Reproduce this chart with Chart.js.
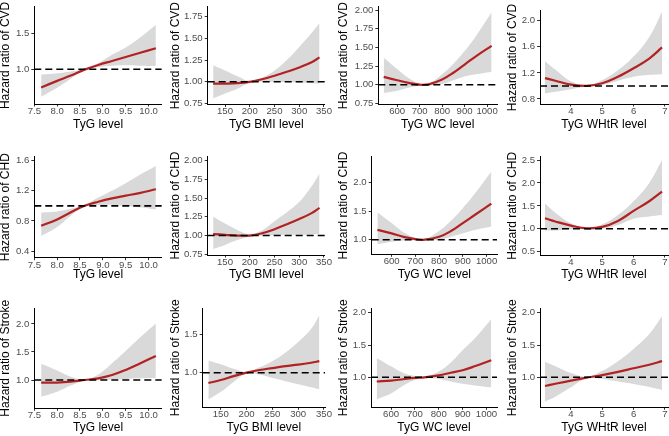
<!DOCTYPE html>
<html>
<head>
<meta charset="utf-8">
<script src="https://cdn.jsdelivr.net/npm/chart.js@4.4.0/dist/chart.umd.min.js"></script>
<style>
  html, body { margin: 0; padding: 0; background: #fff; }
  #wrap { position: relative; width: 669px; height: 436px; overflow: hidden; }
  #wrap canvas { position: absolute; }
</style>
</head>
<body>
<div id="wrap"></div>
<script>
// ---- data ----
const outcomes = ["CVD", "CHD", "Stroke"];
const exposures = ["TyG level", "TyG BMI level", "TyG WC level", "TyG WHtR level"];
const refHR = 1;

const tygX = [7.65, 8.0, 8.3, 8.6, 8.9, 9.2, 9.5, 9.8, 10.16];
const bmiX = [126, 150, 175, 200, 225, 250, 275, 300, 325, 341];
const wcX = [540, 600, 650, 700, 740, 800, 850, 900, 950, 1020];
const whtrX = [3.17, 3.5, 4.0, 4.5, 5.0, 5.5, 6.0, 6.5, 6.91];

const tygTicks = ["7.5", "8.0", "8.5", "9.0", "9.5", "10.0"];
const bmiTicks = ["150", "200", "250", "300", "350"];
const wcTicks = ["600", "700", "800", "900", "1000"];
const whtrTicks = ["4", "5", "6", "7"];

// CVD
const cvdTygEst = [0.75, 0.84, 0.915, 0.995, 1.06, 1.115, 1.17, 1.225, 1.29];
const cvdTygLo = [0.62, 0.745, 0.87, 0.985, 1.03, 1.05, 1.055, 1.05, 1.045];
const cvdTygHi = [0.925, 0.945, 0.97, 1.005, 1.085, 1.2, 1.3, 1.43, 1.61];
const cvdBmiEst = [0.98, 0.98, 0.985, 1.0, 1.03, 1.07, 1.115, 1.165, 1.225, 1.28];
const cvdBmiLo = [0.81, 0.865, 0.92, 0.99, 1.0, 1.0, 0.995, 0.99, 0.985, 0.98];
const cvdBmiHi = [1.19, 1.13, 1.065, 1.01, 1.05, 1.13, 1.25, 1.4, 1.56, 1.67];
const cvdWcEst = [1.105, 1.06, 1.025, 1.0, 1.005, 1.07, 1.16, 1.27, 1.38, 1.52];
const cvdWcLo = [0.89, 0.92, 0.96, 0.985, 0.99, 1.01, 1.06, 1.11, 1.14, 1.175];
const cvdWcHi = [1.36, 1.21, 1.09, 1.015, 1.015, 1.14, 1.28, 1.45, 1.65, 1.97];
const cvdWhtrEst = [1.12, 1.08, 1.02, 1.0, 1.04, 1.14, 1.27, 1.42, 1.59];
const cvdWhtrLo = [0.885, 0.91, 0.95, 0.99, 1.015, 1.08, 1.14, 1.17, 1.18];
const cvdWhtrHi = [1.38, 1.25, 1.07, 1.01, 1.09, 1.24, 1.45, 1.75, 2.14];

// CHD
const chdTygEst = [0.735, 0.82, 0.915, 1.0, 1.055, 1.1, 1.135, 1.17, 1.22];
const chdTygLo = [0.6, 0.72, 0.87, 0.99, 1.01, 1.015, 1.0, 0.98, 0.95];
const chdTygHi = [0.91, 0.925, 0.96, 1.01, 1.11, 1.2, 1.3, 1.41, 1.53];
const chdBmiEst = [1.02, 1.01, 1.0, 1.0, 1.03, 1.085, 1.15, 1.22, 1.3, 1.37];
const chdBmiLo = [0.82, 0.875, 0.94, 0.985, 1.0, 1.005, 1.01, 1.01, 1.015, 1.02];
const chdBmiHi = [1.25, 1.16, 1.075, 1.02, 1.07, 1.19, 1.31, 1.45, 1.66, 1.83];
const chdWcEst = [1.17, 1.11, 1.05, 1.01, 1.0, 1.05, 1.15, 1.29, 1.43, 1.63];
const chdWcLo = [0.92, 0.965, 0.985, 0.99, 0.99, 1.0, 1.05, 1.11, 1.17, 1.23];
const chdWcHi = [1.48, 1.29, 1.13, 1.03, 1.01, 1.15, 1.33, 1.55, 1.8, 2.19];
const chdWhtrEst = [1.23, 1.16, 1.07, 1.01, 1.04, 1.17, 1.39, 1.6, 1.81];
const chdWhtrLo = [0.96, 0.96, 0.99, 0.99, 1.0, 1.08, 1.22, 1.27, 1.3];
const chdWhtrHi = [1.55, 1.35, 1.12, 1.02, 1.1, 1.3, 1.6, 2.0, 2.5];

// Stroke
const strokeTygEst = [0.955, 0.955, 0.97, 1.0, 1.03, 1.09, 1.18, 1.29, 1.43];
const strokeTygLo = [0.7, 0.79, 0.9, 0.99, 1.0, 1.01, 1.02, 1.03, 1.035];
const strokeTygHi = [1.29, 1.17, 1.06, 1.01, 1.1, 1.3, 1.52, 1.75, 2.01];
const strokeBmiEst = [0.865, 0.905, 0.955, 1.0, 1.035, 1.06, 1.085, 1.105, 1.13, 1.15];
const strokeBmiLo = [0.65, 0.75, 0.88, 0.99, 0.975, 0.93, 0.89, 0.85, 0.81, 0.785];
const strokeBmiHi = [1.16, 1.11, 1.05, 1.01, 1.07, 1.15, 1.26, 1.4, 1.57, 1.75];
const strokeWcEst = [0.935, 0.95, 0.97, 0.99, 1.0, 1.03, 1.07, 1.11, 1.17, 1.265];
const strokeWcLo = [0.66, 0.75, 0.87, 0.96, 0.99, 0.975, 0.935, 0.9, 0.875, 0.845];
const strokeWcHi = [1.3, 1.17, 1.07, 1.02, 1.01, 1.09, 1.23, 1.42, 1.6, 1.9];
const strokeWhtrEst = [0.865, 0.9, 0.95, 0.995, 1.035, 1.085, 1.14, 1.195, 1.25];
const strokeWhtrLo = [0.625, 0.7, 0.845, 0.985, 0.975, 0.935, 0.895, 0.85, 0.805];
const strokeWhtrHi = [1.24, 1.17, 1.065, 1.01, 1.1, 1.25, 1.44, 1.67, 1.95];

// y tick labels per panel (row-major)
const yTicks = [
  ["1.0", "1.5"], ["0.75", "1.00", "1.25", "1.50", "1.75"], ["0.75", "1.00", "1.25", "1.50", "1.75", "2.00"], ["0.8", "1.2", "1.6", "2.0"],
  ["0.4", "0.8", "1.2", "1.6"], ["0.75", "1.00", "1.25", "1.50", "1.75", "2.00"], ["1.0", "1.5", "2.0"], ["0.5", "1.0", "1.5", "2.0", "2.5"],
  ["1.0", "1.5", "2.0"], ["1.0", "1.5"], ["1.0", "1.5", "2.0"], ["1.0", "1.5", "2.0"],
];

// ---- layout (page pixels) ----
const cols = [
  { cellL: 0, cellR: 166, titleX: 6, plotR: 161.8, min: 7.5, max: 10.29, xs: tygX, ticks: tygTicks },
  { cellL: 166, cellR: 332, titleX: 175.5, plotR: 330.5, min: 115, max: 352, xs: bmiX, ticks: bmiTicks },
  { cellL: 332, cellR: 498, titleX: 343.5, plotR: 497, min: 516, max: 1044, xs: wcX, ticks: wcTicks },
  { cellL: 498, cellR: 669, titleX: 512.5, plotR: 668, min: 3.01, max: 7.1, xs: whtrX, ticks: whtrTicks },
];
const rows = [
  { cellT: 0, cellB: 144, titleY: 124.5 },
  { cellT: 144, cellB: 290, titleY: 274.5 },
  { cellT: 290, cellB: 436, titleY: 427.5 },
];
// plotL, plotT, plotB, yMin, yMax
const boxes = [
  [34.3, 4, 104, 0.521, 1.862], [207.7, 3.3, 104.5, 0.74, 1.86], [378.3, 4, 104.5, 0.735, 2.043], [540, 10.9, 104, 0.723, 2.15],
  [34.3, 156.7, 257.7, 0.311, 1.653], [207.7, 156, 255, 0.74, 2.063], [371.7, 156.7, 254.3, 0.745, 2.447], [540, 156.7, 255, 0.428, 2.572],
  [34.3, 308.3, 408.3, 0.495, 2.28], [202.7, 308.3, 407.3, 0.549, 1.839], [371, 308.3, 407.3, 0.536, 2.068], [540, 308.3, 407.3, 0.536, 2.068],
];

const series = [
  [[cvdTygEst, cvdTygLo, cvdTygHi], [cvdBmiEst, cvdBmiLo, cvdBmiHi], [cvdWcEst, cvdWcLo, cvdWcHi], [cvdWhtrEst, cvdWhtrLo, cvdWhtrHi]],
  [[chdTygEst, chdTygLo, chdTygHi], [chdBmiEst, chdBmiLo, chdBmiHi], [chdWcEst, chdWcLo, chdWcHi], [chdWhtrEst, chdWhtrLo, chdWhtrHi]],
  [[strokeTygEst, strokeTygLo, strokeTygHi], [strokeBmiEst, strokeBmiLo, strokeBmiHi], [strokeWcEst, strokeWcLo, strokeWcHi], [strokeWhtrEst, strokeWhtrLo, strokeWhtrHi]],
];

const FONT = '"Liberation Sans", Arial, Helvetica, sans-serif';
Chart.defaults.font.family = FONT;

// y title drawn by hand so it is not squeezed to the axis height
const yTitle = {
  id: "yTitle",
  afterDraw(chart, args, opts) {
    const { ctx, chartArea } = chart;
    ctx.save();
    ctx.translate(opts.x, (chartArea.top + chartArea.bottom) / 2);
    ctx.rotate(-Math.PI / 2);
    ctx.font = "12px " + FONT;
    ctx.fillStyle = "#000";
    ctx.textAlign = "center";
    ctx.textBaseline = "middle";
    ctx.fillText(opts.text, 0, 0);
    ctx.restore();
  },
};

const pts = (xs, ys) => xs.map((x, i) => ({ x: x, y: ys[i] }));

const makePanel = (r, c) => {
  const col = cols[c];
  const row = rows[r];
  const [plotL, plotT, plotB, yMin, yMax] = boxes[r * 4 + c];
  const yLabels = yTicks[r * 4 + c];
  const [est, lo, hi] = series[r][c];

  const w = col.cellR - col.cellL;
  const h = row.cellB - row.cellT;
  const canvas = document.createElement("canvas");
  canvas.width = w;
  canvas.height = h;
  canvas.style.left = col.cellL + "px";
  canvas.style.top = row.cellT + "px";
  canvas.style.width = w + "px";
  canvas.style.height = h + "px";
  document.getElementById("wrap").appendChild(canvas);

  const xBottom = row.titleY + 7.2;
  const tickFont = { size: 9.6, lineHeight: 1 };

  return new Chart(canvas, {
    type: "line",
    data: {
      datasets: [
        { data: [{ x: col.min, y: refHR }, { x: col.max, y: refHR }], borderColor: "#000", borderWidth: 1.6, borderDash: [7, 4], pointRadius: 0, tension: 0, fill: false },
        { data: pts(col.xs, est), borderColor: "#B22222", borderWidth: 2.2, pointRadius: 0, tension: 0.4, fill: false },
        { data: pts(col.xs, hi), borderWidth: 0, borderColor: "rgba(0,0,0,0)", pointRadius: 0, tension: 0.4, fill: "+1", backgroundColor: "#D9D9D9" },
        { data: pts(col.xs, lo), borderWidth: 0, borderColor: "rgba(0,0,0,0)", pointRadius: 0, tension: 0.4, fill: false },
      ],
    },
    options: {
      responsive: false,
      animation: false,
      devicePixelRatio: 1,
      layout: {
        autoPadding: false,
        padding: { left: 0, top: plotT - row.cellT, right: col.cellR - col.plotR, bottom: row.cellB - xBottom },
      },
      plugins: {
        legend: { display: false },
        tooltip: { enabled: false },
        yTitle: { x: col.titleX - col.cellL, text: "Hazard ratio of " + outcomes[r] },
      },
      scales: {
        x: {
          type: "linear",
          min: col.min,
          max: col.max,
          afterBuildTicks: (s) => { s.ticks = col.ticks.map((t) => ({ value: parseFloat(t) })); },
          afterFit: (s) => { s.height = xBottom - plotB; },
          ticks: { callback: (v, i) => col.ticks[i], font: tickFont, color: "#4D4D4D", padding: 0, maxRotation: 0, autoSkip: false },
          grid: { drawOnChartArea: false, drawTicks: true, tickLength: 2.5, color: "#333" },
          border: { display: true, color: "#000", width: 1 },
          title: { display: true, text: exposures[c], font: { size: 12 }, color: "#000", padding: 0 },
        },
        y: {
          type: "linear",
          min: yMin,
          max: yMax,
          afterBuildTicks: (s) => { s.ticks = yLabels.map((t) => ({ value: parseFloat(t) })); },
          afterFit: (s) => { s.width = plotL - col.cellL; },
          ticks: { callback: (v, i) => yLabels[i], font: tickFont, color: "#4D4D4D", padding: 2, autoSkip: false },
          grid: { drawOnChartArea: false, drawTicks: true, tickLength: 3, color: "#333" },
          border: { display: true, color: "#000", width: 1 },
          title: { display: false },
        },
      },
    },
    plugins: [yTitle],
  });
};

for (let r = 0; r < 3; r++) {
  for (let c = 0; c < 4; c++) {
    makePanel(r, c);
  }
}
</script>
</body>
</html>
